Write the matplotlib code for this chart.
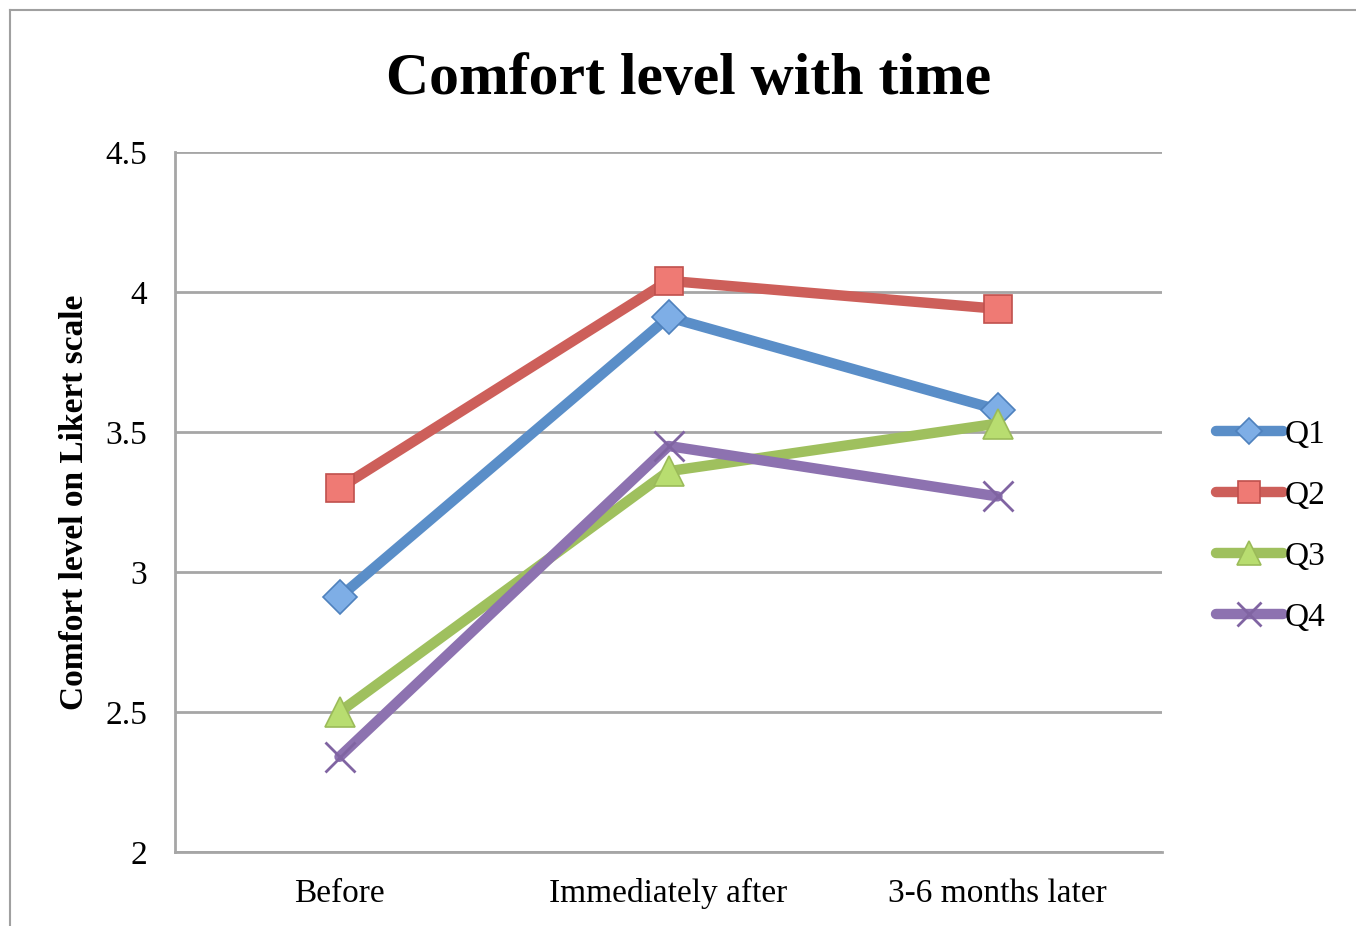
import matplotlib
matplotlib.use('Agg')
import matplotlib.pyplot as plt
from matplotlib.lines import Line2D

categories = ["Before", "Immediately after", "3-6 months later"]
series_names = ["Q1", "Q2", "Q3", "Q4"]
q1 = [2.91, 3.91, 3.58]
q2 = [3.30, 4.04, 3.94]
q3 = [2.50, 3.36, 3.53]
q4 = [2.34, 3.45, 3.27]

line_colors = ["#5a8ec8", "#cd5f5a", "#9fc05e", "#8d72b0"]
marker_faces = ["#7eaee6", "#ef7a74", "#b8dd70", "#8d72b0"]
marker_edges = ["#4f81bd", "#c0504d", "#9bbb59", "#8064a2"]
markers = ["D", "s", "^", "x"]
msizes = [17, 20, 21, 21]

plt.rcParams['font.family'] = ['Liberation Serif', 'DejaVu Serif']

fig = plt.figure(figsize=(13.56, 9.26), dpi=100)
ax = fig.add_axes([175/1356, 1 - 852/926, (1162-175)/1356, (852-152)/926])

# outer chart frame (only top and left visible in the crop)
fig.add_artist(Line2D([10/1356, 10/1356], [0, 1 - 10/926], color="#a0a0a0", lw=1.5))
fig.add_artist(Line2D([10/1356, 1], [1 - 10/926, 1 - 10/926], color="#a0a0a0", lw=1.5))

x = list(range(len(categories)))
handles = []
for i, vals in enumerate([q1, q2, q3, q4]):
    h, = ax.plot(x, vals, color=line_colors[i], lw=7.5, solid_capstyle='round',
                 marker=markers[i], markersize=msizes[i],
                 markerfacecolor=marker_faces[i], markeredgecolor=marker_edges[i],
                 markeredgewidth=2 if markers[i] == "x" else 1.2, zorder=3 + i)
    handles.append(h)

ax.set_xlim(-0.5, 2.5)
ax.set_ylim(2, 4.5)
ax.set_yticks([2, 2.5, 3, 3.5, 4, 4.5])
ax.set_yticklabels(["2", "2.5", "3", "3.5", "4", "4.5"])
ax.set_xticks(x)
ax.set_xticklabels(categories)
ax.tick_params(length=0, labelsize=24)
ax.tick_params(axis='x', pad=19)
ax.tick_params(axis='y', pad=20)
ax.grid(axis='y', color="#a6a6a6", lw=2)
ax.set_axisbelow(True)
for s in ['top', 'right']:
    ax.spines[s].set_visible(False)
for s in ['left', 'bottom']:
    ax.spines[s].set_color("#a6a6a6")
    ax.spines[s].set_linewidth(2)

ax.set_ylabel("Comfort level on Likert scale", fontsize=24, fontweight='bold')
ax.yaxis.set_label_coords(-85/987, 0.5)
fig.text(689/1356, 1 - 80/926, "Comfort level with time", fontsize=43, fontweight='bold',
         ha='center', va='center')

leg = fig.legend(handles, series_names, loc='center left',
                 bbox_to_anchor=(1216/1356, 1 - 526/926), frameon=False,
                 fontsize=24, handlelength=2.0, handletextpad=0.05, labelspacing=0.92,
                 borderpad=0, borderaxespad=0, markerscale=0.8)

fig.savefig("out.png", dpi=100)
